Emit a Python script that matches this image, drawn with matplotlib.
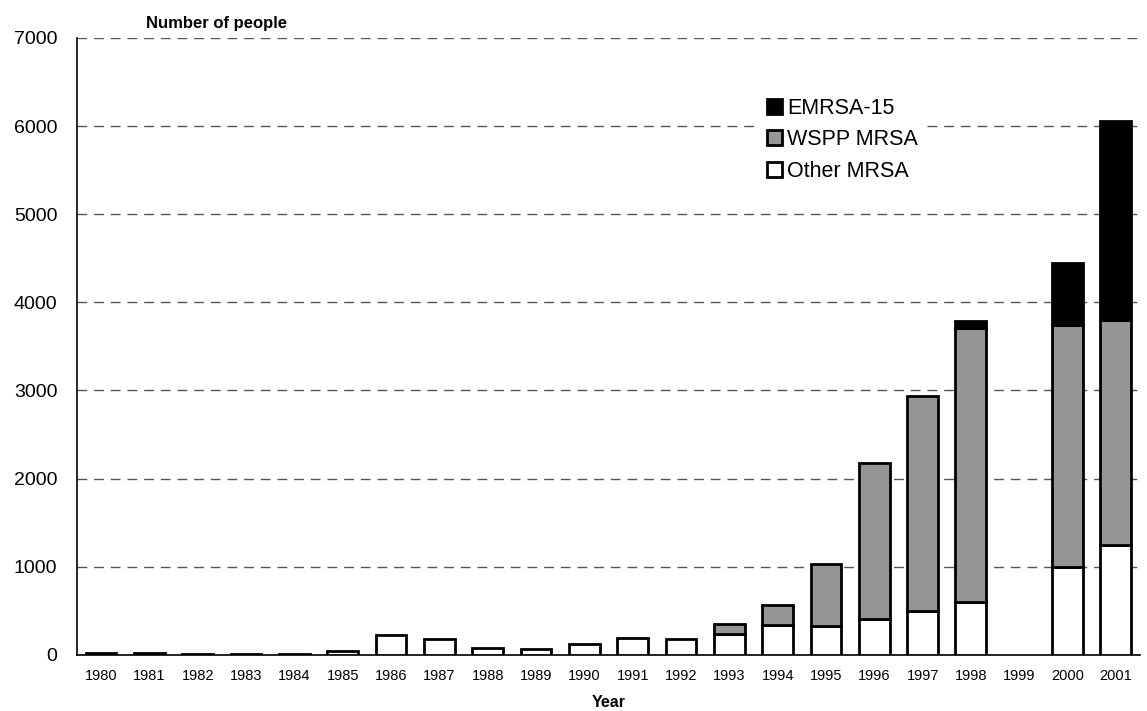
import matplotlib
matplotlib.use("Agg")
import matplotlib.pyplot as plt
import numpy as np
from matplotlib.patches import Patch

years = [str(y) for y in range(1980, 2002)]
other_mrsa = [20, 20, 10, 15, 8, 40, 220, 180, 80, 68, 125, 190, 185,
              238, 333, 329, 412, 500, 594, 0, 1001, 1252]
wspp_mrsa = [0, 0, 0, 0, 0, 0, 0, 0, 0, 0, 0, 0, 0,
             114, 227, 697, 1763, 2436, 3112, 0, 2740, 2553]
emrsa_15 = [0, 0, 0, 0, 0, 0, 0, 0, 0, 0, 0, 0, 0,
            0, 0, 0, 0, 0, 79, 0, 702, 2258]
y_ticks = [0, 1000, 2000, 3000, 4000, 5000, 6000, 7000]

plt.rcParams["font.family"] = ["Liberation Sans", "DejaVu Sans"]

fig = plt.figure(figsize=(11.47, 7.11), dpi=100)
ax = fig.add_axes([0.067, 0.079, 0.927, 0.8676])

x = np.arange(len(years))
w = 0.64
other = np.array(other_mrsa)
wspp = np.array(wspp_mrsa)
emr = np.array(emrsa_15)


def stack(vals, bottom, color):
    # skip empty segments so no stray edge lines are drawn
    m = vals > 0
    ax.bar(x[m], vals[m], w, bottom=bottom[m], color=color,
           edgecolor="black", lw=2, zorder=3)


stack(other, np.zeros_like(other), "white")
stack(wspp, other, "#969696")
stack(emr, other + wspp, "black")

ax.set_xlim(-0.5, len(years) - 0.5)
ax.set_ylim(0, 7000)
ax.set_yticks(y_ticks)
ax.set_yticklabels([str(v) for v in y_ticks], fontsize=14)
ax.set_xticks(x)
ax.set_xticklabels(years, fontsize=10.5)
ax.tick_params(axis="both", length=0)
ax.tick_params(axis="y", pad=14)
ax.tick_params(axis="x", pad=10)

for v in y_ticks[1:]:
    ax.axhline(v, color="#555555", lw=1, dashes=(7, 5), zorder=1)

for s in ["top", "right"]:
    ax.spines[s].set_visible(False)
ax.spines["left"].set_linewidth(1.2)
ax.spines["bottom"].set_linewidth(1.2)

ax.set_xlabel("Year", fontsize=11.5, fontweight="bold", labelpad=9)
fig.text(0.127, 0.967, "Number of people", fontsize=12, fontweight="bold",
         ha="left", va="center")

handles = [Patch(facecolor="black", edgecolor="black", lw=2),
           Patch(facecolor="#969696", edgecolor="black", lw=2),
           Patch(facecolor="white", edgecolor="black", lw=2)]
leg = ax.legend(handles, ["EMRSA-15", "WSPP MRSA", "Other MRSA"],
                loc="upper left", bbox_to_anchor=(0.641, 0.917),
                frameon=True, fontsize=15.5, handlelength=0.7,
                handleheight=0.7, handletextpad=0.25, labelspacing=0.49,
                borderaxespad=0)
leg.get_frame().set_linewidth(0)
leg.get_frame().set_facecolor("white")
leg.get_frame().set_alpha(1)
leg.set_zorder(5)

fig.savefig("out.png", dpi=100, facecolor="white")
